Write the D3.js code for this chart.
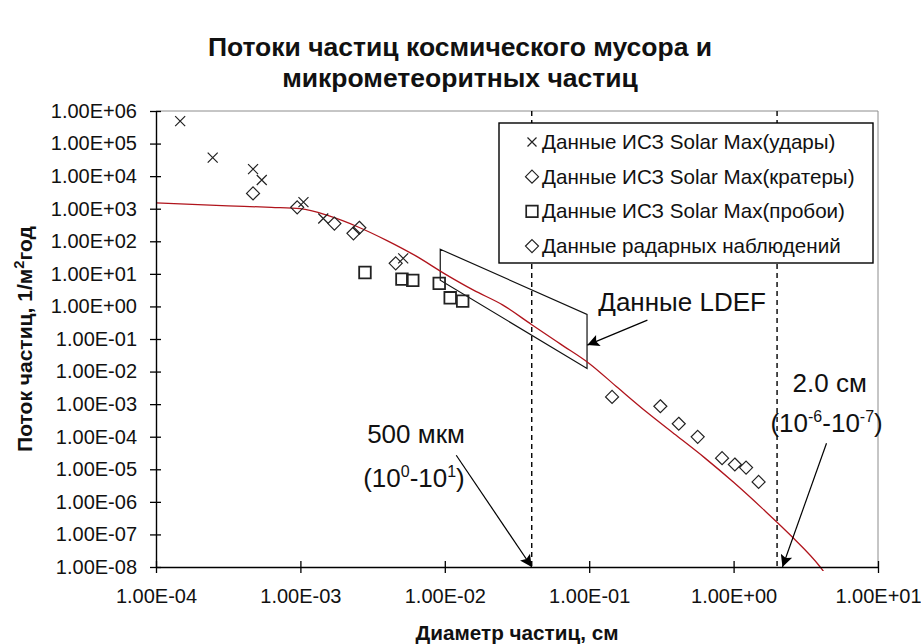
<!DOCTYPE html>
<html>
<head>
<meta charset="utf-8">
<script src="https://cdn.jsdelivr.net/npm/d3@7"></script>
<style>
  body { margin: 0; background: #fff; }
  svg { display: block; }
  text { font-family: "Liberation Sans", Arial, sans-serif; fill: #111; }
</style>
</head>
<body>
<script>
// ---- data ----
// Solar Max impacts (crosses)
var impactD = [1.47e-4, 2.47e-4, 4.7e-4, 5.4e-4, 1.05e-3, 1.44e-3, 5.15e-3];
var impactF = [4.9e5, 3.7e4, 1.65e4, 7.6e3, 1.6e3, 5.0e2, 30];
// Solar Max craters (diamonds)
var craterD = [4.7e-4, 9.5e-4, 1.72e-3, 2.33e-3, 2.56e-3, 4.57e-3];
var craterF = [2.95e3, 1.1e3, 3.5e2, 1.75e2, 2.6e2, 21];
// Solar Max penetrations (squares)
var holeD = [2.8e-3, 5.05e-3, 6.0e-3, 9.15e-3, 1.09e-2, 1.33e-2];
var holeF = [11, 6.9, 6.3, 5.1, 1.84, 1.46];
// radar observations (diamonds)
var radarD = [0.144, 0.311, 0.417, 0.564, 0.832, 1.02, 1.22, 1.49];
var radarF = [1.67e-3, 8.6e-4, 2.5e-4, 9.9e-5, 2.2e-5, 1.4e-5, 1.13e-5, 4.1e-6];
// model flux curve (red)
var modelD = [1e-4, 3.16e-4, 6.3e-4, 1e-3, 1.58e-3, 2.51e-3, 3.98e-3, 6.3e-3, 1e-2, 1.58e-2,
              2.51e-2, 3.98e-2, 6.3e-2, 0.1, 0.158, 0.251, 0.398, 0.631, 1, 1.58, 2.51, 3.98, 4.47];
var modelF = [1510, 1230, 1100, 1000, 600, 275, 105, 35.5, 10, 3.16,
              1.12, 0.28, 0.0708, 0.0178, 3.16e-3, 5.6e-4, 1.12e-4, 2.24e-5, 3.98e-6, 6.3e-7, 8.9e-8, 1e-8, 5e-9];
// LDEF band (parallelogram)
var ldefD = [9.3e-3, 0.0966, 0.0966, 9.3e-3];
var ldefF = [57, 0.57, 0.0124, 6.4];
// dashed size limits
var limitD = [0.04, 2.0];

var xTicks = [1e-4, 1e-3, 1e-2, 1e-1, 1e0, 1e1];
var xTickLabels = ["1.00E-04", "1.00E-03", "1.00E-02", "1.00E-01", "1.00E+00", "1.00E+01"];
var yTicks = [1e6, 1e5, 1e4, 1e3, 1e2, 1e1, 1e0, 1e-1, 1e-2, 1e-3, 1e-4, 1e-5, 1e-6, 1e-7, 1e-8];
var yTickLabels = ["1.00E+06", "1.00E+05", "1.00E+04", "1.00E+03", "1.00E+02", "1.00E+01", "1.00E+00",
                   "1.00E-01", "1.00E-02", "1.00E-03", "1.00E-04", "1.00E-05", "1.00E-06", "1.00E-07", "1.00E-08"];

var legendNames = ["Данные ИСЗ Solar Max(удары)", "Данные ИСЗ Solar Max(кратеры)",
                   "Данные ИСЗ Solar Max(пробои)", "Данные радарных наблюдений"];
var legendShapes = ["cross", "diamond", "square", "diamond"];

// ---- layout ----
var width = 921, height = 644;
var plotL = 156, plotR = 878, plotT = 111, plotB = 567;

var svg = d3.select("body").append("svg")
    .attr("width", width)
    .attr("height", height);

var x = d3.scaleLog().domain([1e-4, 1e1]).range([plotL, plotR]);
var y = d3.scaleLog().domain([1e-8, 1e6]).range([plotB, plotT]);

var defs = svg.append("defs");
defs.append("clipPath").attr("id", "plotclip")
  .append("rect").attr("x", plotL).attr("y", plotT)
    .attr("width", plotR - plotL).attr("height", plotB - plotT + 4);

defs.append("marker")
    .attr("id", "arrow")
    .attr("viewBox", "0 0 10 10")
    .attr("refX", 10).attr("refY", 5)
    .attr("markerWidth", 17).attr("markerHeight", 12)
    .attr("markerUnits", "userSpaceOnUse")
    .attr("orient", "auto")
  .append("path").attr("d", "M0,0L10,5L0,10L2,5Z").attr("fill", "#000");

// title
var title = svg.append("text")
    .attr("text-anchor", "middle")
    .style("font-weight", "bold").style("font-size", "26.5px");
title.append("tspan").attr("x", 460).attr("y", 56).text("Потоки частиц космического мусора и");
title.append("tspan").attr("x", 460).attr("y", 87).text("микрометеоритных частиц");

// plot frame (top + right in grey)
svg.append("path")
    .attr("d", "M" + plotL + "," + plotT + "H" + plotR + "V" + plotB)
    .attr("fill", "none").attr("stroke", "#8c8c8c").attr("stroke-width", 1);

// dashed limits
svg.selectAll(".limit").data(limitD).enter().append("line")
    .attr("class", "limit")
    .attr("x1", function (d) { return x(d); }).attr("x2", function (d) { return x(d); })
    .attr("y1", y(1e6)).attr("y2", y(1e-8))
    .attr("stroke", "#000").attr("stroke-width", 1.4).attr("stroke-dasharray", "5,4");

// LDEF box
svg.append("path")
    .datum(d3.range(ldefD.length))
    .attr("d", d3.line().x(function (i) { return x(ldefD[i]); }).y(function (i) { return y(ldefF[i]); }).curve(d3.curveLinearClosed))
    .attr("fill", "none").attr("stroke", "#111").attr("stroke-width", 1.2);

// model curve
svg.append("path")
    .datum(d3.range(modelD.length))
    .attr("clip-path", "url(#plotclip)")
    .attr("d", d3.line().x(function (i) { return x(modelD[i]); }).y(function (i) { return y(modelF[i]); }).curve(d3.curveMonotoneX))
    .attr("fill", "none").attr("stroke", "#b0141c").attr("stroke-width", 1.3);

// markers
function shapePath(shape) {
    if (shape === "cross") return "M-5,-5L5,5M-5,5L5,-5";
    if (shape === "diamond") return "M0,-6.5L6.5,0L0,6.5L-6.5,0Z";
    return "M-5.8,-5.8H5.8V5.8H-5.8Z";
}
function drawSeries(ds, fs, shape, sw) {
    svg.append("g").selectAll("path").data(ds).enter().append("path")
        .attr("transform", function (d, i) { return "translate(" + x(d) + "," + y(fs[i]) + ")"; })
        .attr("d", shapePath(shape))
        .attr("fill", "none").attr("stroke", "#222").attr("stroke-width", sw);
}
drawSeries(craterD, craterF, "diamond", 1.2);
drawSeries(radarD, radarF, "diamond", 1.2);
drawSeries(holeD, holeF, "square", 1.8);
drawSeries(impactD, impactF, "cross", 1.2);

// axes
var yAxis = svg.append("g")
    .attr("transform", "translate(" + plotL + ",0)")
    .call(d3.axisLeft(y).tickValues(yTicks).tickSize(6).tickSizeOuter(0).tickPadding(13)
        .tickFormat(function (d, i) { return yTickLabels[i]; }));
yAxis.selectAll(".tick line").attr("x1", 5);
var xAxis = svg.append("g")
    .attr("transform", "translate(0," + plotB + ")")
    .call(d3.axisBottom(x).tickValues(xTicks).tickSize(6).tickSizeOuter(0).tickPadding(16)
        .tickFormat(function (d, i) { return xTickLabels[i]; }));
xAxis.selectAll(".tick line").attr("y1", -6);
svg.selectAll(".domain").attr("stroke", "#000").attr("stroke-width", 1.4);
svg.selectAll(".tick line").attr("stroke", "#000").attr("stroke-width", 1.3);
svg.selectAll(".tick text")
    .style("font-family", "'Liberation Sans', Arial, sans-serif")
    .style("font-size", "20px").attr("fill", "#111");

// axis titles (narrow bold)
function narrowLabel(g, target) {
    var t = g.select("text");
    var w = t.node().getComputedTextLength();
    t.attr("transform", "scale(" + (target / w) + ",1)");
}
var yLab = svg.append("g").attr("transform", "translate(32," + ((plotT + plotB) / 2) + ") rotate(-90)");
var yText = yLab.append("text").attr("text-anchor", "middle")
    .style("font-weight", "bold").style("font-size", "20px");
yText.append("tspan").text("Поток частиц, 1/м");
yText.append("tspan").attr("dy", -8).style("font-size", "14px").text("2");
yText.append("tspan").attr("dy", 8).text("год");
narrowLabel(yLab, 226);

var xLab = svg.append("g").attr("transform", "translate(" + ((plotL + plotR) / 2) + ",640)");
xLab.append("text").attr("text-anchor", "middle")
    .style("font-weight", "bold").style("font-size", "20px")
    .text("Диаметр частиц, см");
narrowLabel(xLab, 203);

// legend
var lg = svg.append("g").attr("transform", "translate(499,123)");
lg.append("rect").attr("width", 374).attr("height", 140)
    .attr("fill", "#fff").attr("stroke", "#000").attr("stroke-width", 1.4);
legendNames.forEach(function (name, i) {
    var cy = 19 + i * 34.7;
    lg.append("path")
        .attr("transform", "translate(33," + cy + ")")
        .attr("d", legendShapes[i] === "cross" ? "M-4.5,-4.5L4.5,4.5M-4.5,4.5L4.5,-4.5" : shapePath(legendShapes[i]))
        .attr("fill", "none").attr("stroke", "#222").attr("stroke-width", legendShapes[i] === "square" ? 1.7 : 1.2);
    lg.append("text").attr("x", 43).attr("y", cy + 7)
        .style("font-size", "20.6px").text(name);
});

// annotations
function annText(d, f, parts) {
    var t = svg.append("text").attr("x", x(d)).attr("y", y(f)).style("font-size", "26px");
    parts.forEach(function (p) {
        var s = t.append("tspan").text(p[0]);
        if (p[1]) s.attr("dy", p[1]);
        if (p[2]) s.style("font-size", p[2]);
    });
}
function annArrow(d0, f0, d1, f1) {
    svg.append("line")
        .attr("x1", x(d0)).attr("y1", y(f0)).attr("x2", x(d1)).attr("y2", y(f1))
        .attr("stroke", "#000").attr("stroke-width", 1.2)
        .attr("marker-end", "url(#arrow)");
}
annText(0.1156, 0.717, [["Данные LDEF"]]);
annArrow(0.253, 0.38, 0.097, 0.065);

annText(2.9e-3, 6.3e-5, [["500 мкм"]]);
annText(2.72e-3, 2.8e-6, [["(10"], ["0", -10, "16px"], ["-10", 10], ["1", -10, "16px"], [")", 10]]);
annArrow(0.012, 2.7e-5, 0.04, 1e-8);

annText(2.56, 2.33e-3, [["2.0 см"]]);
annText(1.8, 1.37e-4, [["(10"], ["-6", -10, "16px"], ["-10", 10], ["-7", -10, "16px"], [")", 10]]);
annArrow(4.4, 6.3e-5, 2.18, 1e-8);
</script>
</body>
</html>
